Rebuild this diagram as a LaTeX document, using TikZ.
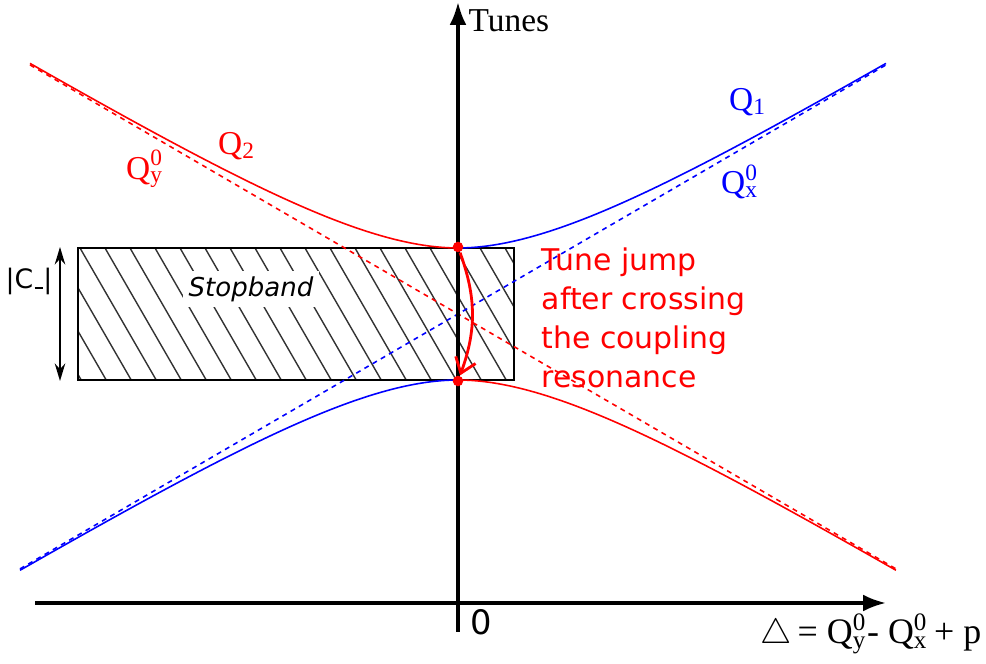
\documentclass[tikz,border=0pt]{standalone}
\usepackage{fontspec}
\setmainfont{Liberation Serif}
\setsansfont{DejaVu Sans}
\usetikzlibrary{positioning, arrows.meta, calc}

\newcommand{\qsupsub}[2]{Q\rlap{\textsuperscript{#1}}\textsubscript{#2}}

\begin{document}
\begin{tikzpicture}[
  every node/.style={font=\fontsize{9.5}{11}\selectfont},
  axis/.style={line width=1pt, -{Latex[length=6.5pt,width=4.8pt]}},
  tune/.style={line width=0.45pt},
  bare/.style={line width=0.45pt, dash pattern=on 1.4pt off 1.3pt},
  dot/.style={circle, fill=red, inner sep=0pt, minimum size=3pt},
  hatch/.style={line width=0.4pt, black!80},
  jump/.style={red, line width=0.8pt, -{Straight Barb[length=4pt,width=6pt]}},
  declare function={branch(\t)=0.582*abs(\t)+0.66*exp(-0.582*abs(\t)/0.66);},
]
\useasboundingbox (0,0) rectangle (9.86,6.64);

% stopband
\begin{scope}
  \clip (0.78,2.84) rectangle (5.14,4.16);
  \foreach \k in {-4,...,17}
    \draw[hatch] ({0.80+0.25*\k},4.16) -- ++(0.762,-1.32);
\end{scope}
\node[fill=white, inner sep=1.6pt, font=\sffamily\itshape\fontsize{7.4}{9}\selectfont] (sb) at (2.51,3.75) {Stopband};
\draw[line width=0.45pt] (0.78,2.84) rectangle (5.14,4.16);

% width of the stopband
\coordinate (cu) at (0.60,4.17);
\coordinate (cd) at (0.60,2.83);
\draw[line width=0.45pt, {Stealth[length=5pt,width=3pt]}-{Stealth[length=5pt,width=3pt]}] (cu) -- (cd);
\node[font=\sffamily\fontsize{7.6}{9}\selectfont] (cm) at (0.29,3.83) {|C\kern0.05em\rule[-0.04em]{0.32em}{0.07em}|};

% uncoupled tunes
\draw[bare, red]  (0.30,{3.50+0.582*4.28}) -- (8.96,{3.50-0.582*4.38});
\draw[bare, blue] (0.20,{3.50-0.582*4.38}) -- (8.86,{3.50+0.582*4.28});

% coupled tunes
\draw[tune, red]  plot[domain=-4.28:0, samples=100] ({4.58+\x},{3.50+branch(\x)});
\draw[tune, blue] plot[domain=0:4.28, samples=100] ({4.58+\x},{3.50+branch(\x)});
\draw[tune, blue] plot[domain=-4.38:0, samples=100] ({4.58+\x},{3.50-branch(\x)});
\draw[tune, red]  plot[domain=0:4.38, samples=100] ({4.58+\x},{3.50-branch(\x)});

% axes
\coordinate (ybot) at (4.58,0.32);
\coordinate (ytop) at (4.58,6.62);
\coordinate (xl) at (0.35,0.61);
\coordinate (xr) at (8.86,0.61);
\draw[axis] (ybot) -- (ytop);
\draw[axis] (xl) -- (xr);
\node[anchor=west, inner sep=0pt] (tunes) at (4.68,6.43) {Tunes};
\node[font=\sffamily\fontsize{9.6}{11}\selectfont] (zero) at (4.81,0.42) {0};
\node[anchor=east, inner sep=0pt, font=\fontsize{10.2}{12}\selectfont] (delta) at (9.82,0.30) {$\triangle$\,= \qsupsub{0}{y}- \qsupsub{0}{x}\,+ p};

% tune labels
\node[red] (q2) at (2.37,5.18) {Q\textsubscript{2}};
\node[red] (qy) at (1.45,4.95) {\qsupsub{0}{y}};
\node[blue] (q1) at (7.48,5.62) {Q\textsubscript{1}};
\node[blue] (qx) at (7.40,4.82) {\qsupsub{0}{x}};

% tune jump
\node[dot] (up) at (4.58,4.17) {};
\node[dot] (down) at (4.58,2.83) {};
\draw[jump] (up) to[bend left=20] (down);
\node[anchor=north west, inner sep=0pt, red, align=left,
      font=\sffamily\fontsize{8.5}{11.1}\selectfont] (txt) at (5.41,4.17)
  {Tune jump\\after crossing\\the coupling\\resonance};

\end{tikzpicture}
\end{document}
